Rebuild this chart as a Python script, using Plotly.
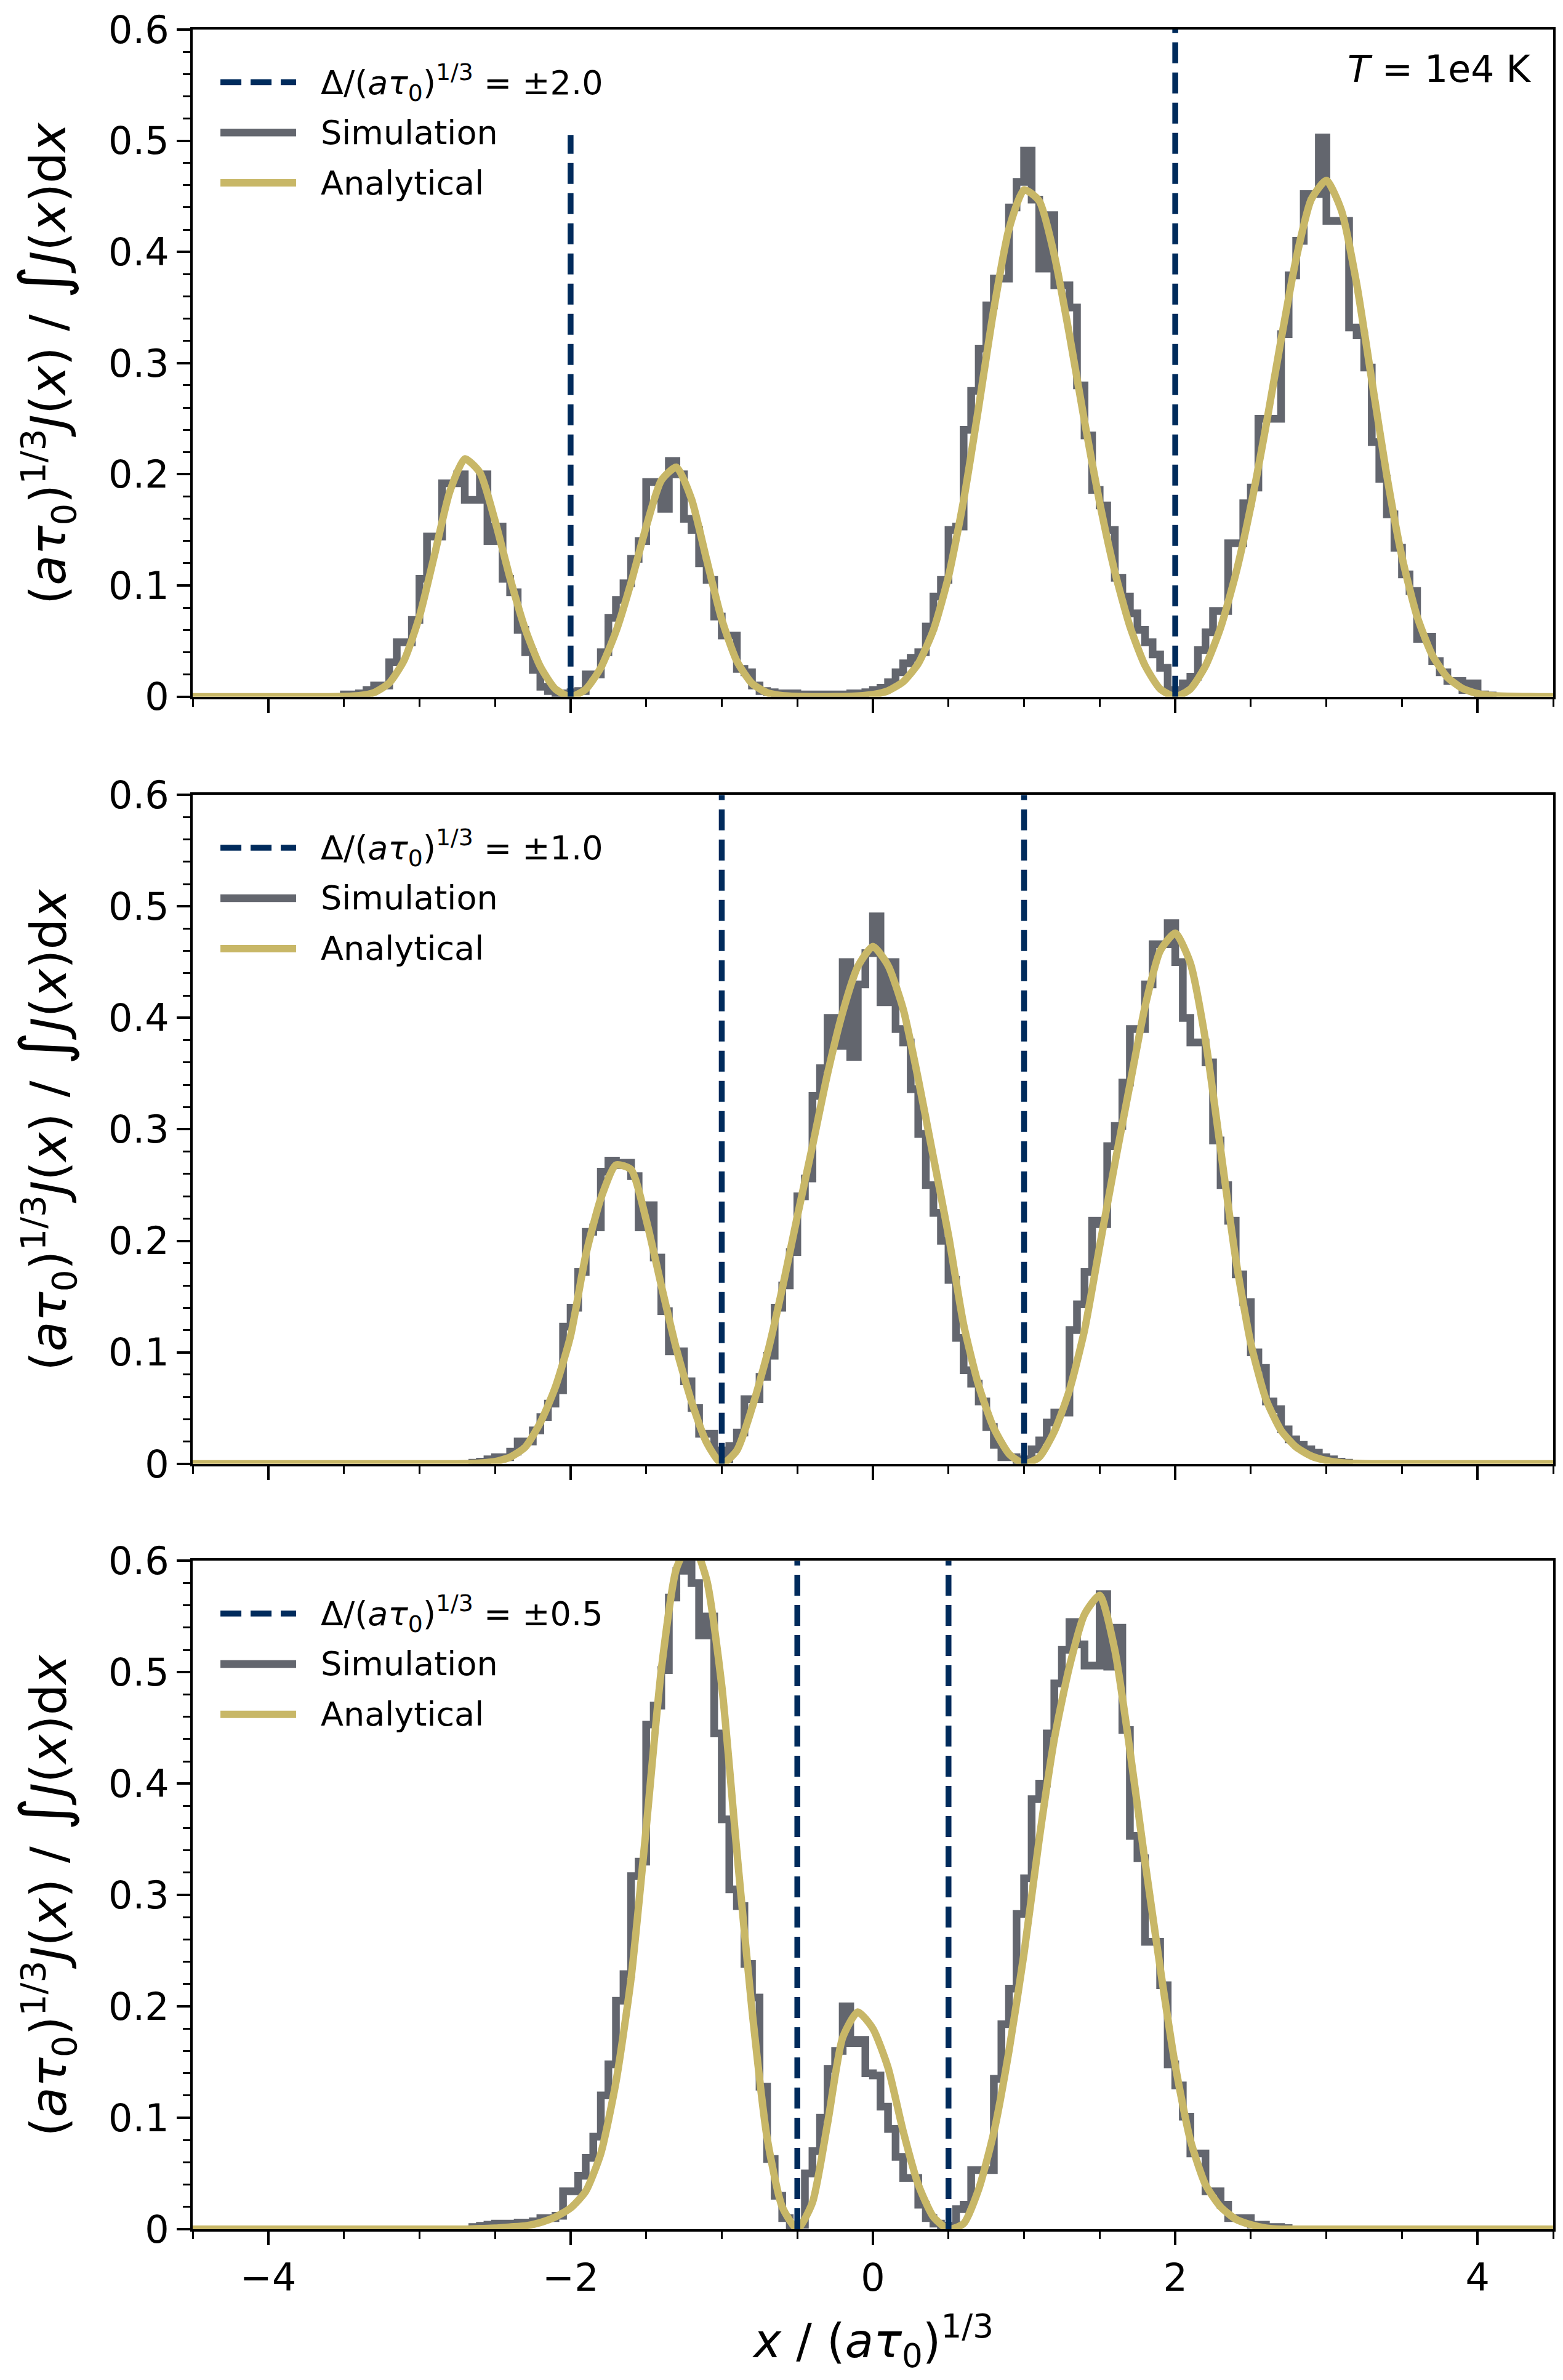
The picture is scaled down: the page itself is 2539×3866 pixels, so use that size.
import plotly.graph_objects as go
from plotly.subplots import make_subplots

# Δ/(aτ0)^{1/3} of each panel, top to bottom
deltas = [2.0, 1.0, 0.5]

# simulated spectra: step histograms, bins 0.05 wide starting at these left edges
bin_width = 0.05
hist_left = [-3.5, -2.65, -2.65]

sim_d20 = [
    0.002, 0.002, 0.003, 0.006, 0.010, 0.010, 0.031, 0.049, 0.049, 0.069,
    0.106, 0.144, 0.144, 0.192, 0.192, 0.200, 0.177, 0.177, 0.200, 0.140,
    0.153, 0.106, 0.094, 0.060, 0.040, 0.024, 0.009, 0.005, 0.003, 0.001,
    0.004, 0.005, 0.020, 0.020, 0.040, 0.071, 0.087, 0.102, 0.124, 0.140,
    0.193, 0.193, 0.169, 0.212, 0.200, 0.160, 0.150, 0.120, 0.105, 0.072,
    0.055, 0.055, 0.025, 0.022, 0.010, 0.005, 0.004, 0.003, 0.002, 0.003,
    0.002, 0.002, 0.001, 0.002, 0.002, 0.001, 0.002, 0.003, 0.003, 0.004,
    0.006, 0.008, 0.013, 0.022, 0.030, 0.035, 0.040, 0.063, 0.090, 0.105,
    0.150, 0.153, 0.240, 0.275, 0.313, 0.352, 0.376, 0.376, 0.440, 0.463,
    0.491, 0.447, 0.385, 0.433, 0.370, 0.370, 0.350, 0.280, 0.235, 0.186,
    0.172, 0.150, 0.107, 0.090, 0.075, 0.060, 0.049, 0.038, 0.026, 0.006,
    0.004, 0.012, 0.018, 0.042, 0.058, 0.077, 0.077, 0.138, 0.138, 0.174,
    0.188, 0.250, 0.250, 0.250, 0.326, 0.379, 0.410, 0.452, 0.452, 0.503,
    0.428, 0.428, 0.428, 0.332, 0.325, 0.296, 0.229, 0.196, 0.164, 0.134,
    0.110, 0.095, 0.052, 0.054, 0.032, 0.022, 0.014, 0.014, 0.006, 0.012,
    0.002, 0.001,
]

sim_d10 = [
    0.001, 0.002, 0.004, 0.006, 0.006, 0.011, 0.020, 0.020, 0.030, 0.042,
    0.054, 0.066, 0.123, 0.140, 0.172, 0.208, 0.212, 0.262, 0.272, 0.268,
    0.270, 0.258, 0.212, 0.232, 0.185, 0.137, 0.101, 0.101, 0.074, 0.050,
    0.027, 0.027, 0.012, 0.004, 0.016, 0.028, 0.058, 0.058, 0.078, 0.097,
    0.140, 0.160, 0.190, 0.240, 0.256, 0.330, 0.355, 0.400, 0.375, 0.450,
    0.365, 0.430, 0.458, 0.491, 0.414, 0.450, 0.390, 0.378, 0.336, 0.296,
    0.250, 0.225, 0.200, 0.165, 0.113, 0.084, 0.072, 0.056, 0.033, 0.017,
    0.006, 0.006, 0.002, 0.004, 0.013, 0.021, 0.037, 0.046, 0.046, 0.120,
    0.143, 0.172, 0.218, 0.215, 0.285, 0.303, 0.342, 0.390, 0.390, 0.430,
    0.466, 0.466, 0.485, 0.450, 0.400, 0.378, 0.378, 0.360, 0.290, 0.250,
    0.218, 0.170, 0.145, 0.100, 0.086, 0.056, 0.049, 0.031, 0.022, 0.017,
    0.013, 0.010, 0.006, 0.004, 0.002, 0.001,
]

sim_d05 = [
    0.002, 0.003, 0.004, 0.005, 0.005, 0.004, 0.006, 0.006, 0.007, 0.010,
    0.010, 0.012, 0.034, 0.034, 0.048, 0.064, 0.083, 0.120, 0.148, 0.205,
    0.229, 0.317, 0.330, 0.453, 0.470, 0.502, 0.567, 0.591, 0.600, 0.580,
    0.533, 0.550, 0.445, 0.368, 0.305, 0.290, 0.238, 0.208, 0.128, 0.063,
    0.030, 0.010, 0.003, 0.004, 0.050, 0.070, 0.100, 0.144, 0.160, 0.200,
    0.167, 0.170, 0.140, 0.138, 0.110, 0.090, 0.065, 0.046, 0.046, 0.022,
    0.010, 0.005, 0.002, 0.003, 0.018, 0.022, 0.053, 0.053, 0.053, 0.135,
    0.184, 0.216, 0.283, 0.315, 0.386, 0.400, 0.445, 0.490, 0.520, 0.545,
    0.525, 0.506, 0.506, 0.570, 0.505, 0.540, 0.448, 0.353, 0.333, 0.258,
    0.258, 0.219, 0.148, 0.129, 0.101, 0.068, 0.068, 0.034, 0.034, 0.022,
    0.010, 0.010, 0.010, 0.004, 0.004, 0.002, 0.002, 0.001,
]

# analytical solutions, sampled every 0.1 from x = -4.5 to 4.5
curve_x = [round(-4.5 + 0.1 * i, 1) for i in range(91)]

ana_d20 = [
    0, 0, 0, 0, 0, 0, 0, 0, 0, 0,
    0.0002, 0.0009, 0.0037, 0.0123, 0.0331, 0.0720, 0.1276, 0.1840, 0.2139, 0.2016,
    0.1583, 0.1063, 0.0607, 0.0270, 0.0068, 0.0, 0.0066, 0.0261, 0.0586, 0.1026,
    0.1528, 0.1945, 0.2064, 0.1776, 0.1231, 0.0695, 0.0319, 0.0119, 0.0036, 0.0009,
    0.0002, 0.0, 0.0, 0.0001, 0.0006, 0.0019, 0.0053, 0.0134, 0.0298, 0.0599,
    0.1082, 0.1766, 0.2609, 0.3486, 0.4206, 0.4559, 0.4459, 0.3971, 0.3254, 0.2475,
    0.1745, 0.1124, 0.0633, 0.0281, 0.0070, 0.0, 0.0069, 0.0276, 0.0621, 0.1102,
    0.1713, 0.2433, 0.3209, 0.3941, 0.4473, 0.4643, 0.4370, 0.3714, 0.2847, 0.1984,
    0.1256, 0.0721, 0.0375, 0.0175, 0.0074, 0.0028, 0.0009, 0.0003, 0.0001, 0,
    0,
]

ana_d10 = [
    0, 0, 0, 0, 0, 0, 0, 0, 0, 0,
    0, 0, 0, 0, 0, 0, 0, 0, 0.0002, 0.0007,
    0.002, 0.006, 0.015, 0.037, 0.069, 0.115, 0.187, 0.238, 0.268, 0.264,
    0.219, 0.160, 0.103, 0.056, 0.019, 0.0, 0.012, 0.050, 0.098, 0.157,
    0.222, 0.285, 0.350, 0.405, 0.446, 0.464, 0.447, 0.408, 0.345, 0.275,
    0.205, 0.125, 0.070, 0.032, 0.009, 0.0, 0.006, 0.029, 0.066, 0.120,
    0.195, 0.269, 0.340, 0.410, 0.460, 0.476, 0.449, 0.380, 0.282, 0.184,
    0.108, 0.058, 0.030, 0.015, 0.007, 0.003, 0.001, 0.0004, 0, 0,
    0, 0, 0, 0, 0, 0, 0, 0, 0, 0,
    0,
]

ana_d05 = [
    0, 0, 0, 0, 0, 0, 0, 0, 0, 0,
    0, 0, 0, 0, 0, 0, 0, 0, 0, 0.0005,
    0.001, 0.002, 0.003, 0.006, 0.011, 0.019, 0.034, 0.068, 0.132, 0.225,
    0.360, 0.502, 0.593, 0.618, 0.583, 0.488, 0.339, 0.197, 0.082, 0.020,
    0.0, 0.024, 0.095, 0.172, 0.195, 0.180, 0.145, 0.088, 0.040, 0.011,
    0.0, 0.005, 0.036, 0.087, 0.160, 0.248, 0.350, 0.440, 0.505, 0.552,
    0.569, 0.520, 0.430, 0.330, 0.235, 0.147, 0.080, 0.040, 0.020, 0.009,
    0.004, 0.001, 0, 0, 0, 0, 0, 0, 0, 0,
    0, 0, 0, 0, 0, 0, 0, 0, 0, 0,
    0,
]

sims = [sim_d20, sim_d10, sim_d05]
curves = [ana_d20, ana_d10, ana_d05]

NAVY = "#002B5C"
GRAY = "#63666E"
GOLD = "#C8B767"
FONT = "DejaVu Sans"
W_SIM, W_ANA, W_DASH = 12.5, 12, 9.5
DASH = "34px,15px"


def step_outline(left, values):
    edges = [left + bin_width * i for i in range(len(values) + 1)]
    xs = [edges[0]] + edges[:-1] + [edges[-1]]
    ys = [0] + list(values) + [0]
    return xs, ys


fig = make_subplots(rows=3, cols=1)
domains = [[0.69671, 1.0], [0.34794, 0.65206], [0.0, 0.30385]]

for i in range(3):
    row = i + 1
    hx, hy = step_outline(hist_left[i], sims[i])
    fig.add_trace(go.Scatter(x=hx, y=hy, mode="lines", line_shape="hv",
                             line=dict(color=GRAY, width=W_SIM), showlegend=False),
                  row=row, col=1)
    fig.add_trace(go.Scatter(x=curve_x, y=curves[i], mode="lines",
                             line=dict(color=GOLD, width=W_ANA, shape="spline", smoothing=0.6),
                             showlegend=False),
                  row=row, col=1)
    for d in (-deltas[i], deltas[i]):
        fig.add_trace(go.Scatter(x=[d, d], y=[0, 0.6], mode="lines",
                                 line=dict(color=NAVY, width=W_DASH, dash=DASH),
                                 showlegend=False),
                      row=row, col=1)

    sfx = "" if row == 1 else str(row)
    xd, yd = f"x{sfx} domain", f"y{sfx} domain"

    # legend box (white, covers what is behind it like the matplotlib legend)
    fig.add_shape(type="rect", xref=xd, yref=yd, x0=0.0, x1=0.31, y0=0.842, y1=1.0,
                  fillcolor="white", line=dict(width=0), layer="above")
    rows_y = [0.921, 0.8456, 0.7702]
    styles = [dict(color=NAVY, width=W_DASH, dash=DASH),
              dict(color=GRAY, width=W_SIM), dict(color=GOLD, width=W_ANA)]
    labels = [f"Δ/(<i>a</i><i>τ</i><sub>0</sub>)<sup>1/3</sup> = ±{deltas[i]:.1f}",
              "Simulation", "Analytical"]
    for yy, st, lab in zip(rows_y, styles, labels):
        fig.add_shape(type="line", xref=xd, yref=yd, x0=0.0204, x1=0.076, y0=yy, y1=yy,
                      line=st, layer="above")
        fig.add_annotation(xref=xd, yref=yd, x=0.0932, y=yy, text=lab, showarrow=False,
                           xanchor="left", yanchor="middle",
                           font=dict(family=FONT, size=54, color="black"))

    fig.update_xaxes(domain=[0, 1], range=[-4.5, 4.5], dtick=2, tick0=0,
                     showticklabels=(row == 3),
                     ticks="outside", ticklen=22, tickwidth=4, tickcolor="black",
                     minor=dict(ticks="outside", dtick=0.5, ticklen=12, tickwidth=3,
                                tickcolor="black"),
                     showline=True, linewidth=4, linecolor="black", mirror=True,
                     showgrid=False, zeroline=False,
                     tickfont=dict(family=FONT, size=62, color="black"),
                     row=row, col=1)
    fig.update_yaxes(domain=domains[i], range=[0, 0.6], dtick=0.1, tick0=0,
                     ticks="outside", ticklen=22, tickwidth=4, tickcolor="black",
                     minor=dict(ticks="outside", dtick=0.02, ticklen=12, tickwidth=3,
                                tickcolor="black"),
                     showline=True, linewidth=4, linecolor="black", mirror=True,
                     showgrid=False, zeroline=False,
                     tickfont=dict(family=FONT, size=62, color="black"),
                     row=row, col=1)

    ylab = ("(<i>a</i><i>τ</i><sub>0</sub>)<sup>1/3</sup><i>J</i>(<i>x</i>) / "
            "<span style='font-size:104px'>∫</span><i>J</i>(<i>x</i>)d<i>x</i>")
    fig.add_annotation(xref="paper", yref="paper", x=-0.1085,
                       y=(domains[i][0] + domains[i][1]) / 2,
                       text=ylab, textangle=-90, showarrow=False,
                       xanchor="center", yanchor="middle",
                       font=dict(family=FONT, size=80, color="black"))

fig.add_annotation(xref="x domain", yref="y domain", x=0.9846, y=0.941,
                   text="<i>T</i> = 1e4 K", showarrow=False,
                   xanchor="right", yanchor="middle",
                   font=dict(family=FONT, size=60, color="black"))

fig.add_annotation(xref="paper", yref="paper", x=0.5, y=-0.0508,
                   text="<i>x</i> / (<i>a</i><i>τ</i><sub>0</sub>)<sup>1/3</sup>",
                   showarrow=False, xanchor="center", yanchor="middle",
                   font=dict(family=FONT, size=76, color="black"))

fig.update_layout(width=2539, height=3866,
                  margin=dict(l=313, r=15, t=37, b=245),
                  plot_bgcolor="white", paper_bgcolor="white",
                  font=dict(family=FONT, color="black"),
                  showlegend=False)

fig.write_html("out.html", config={"displayModeBar": False},
               post_script="document.body.style.margin='0';document.body.style.overflow='hidden';")
